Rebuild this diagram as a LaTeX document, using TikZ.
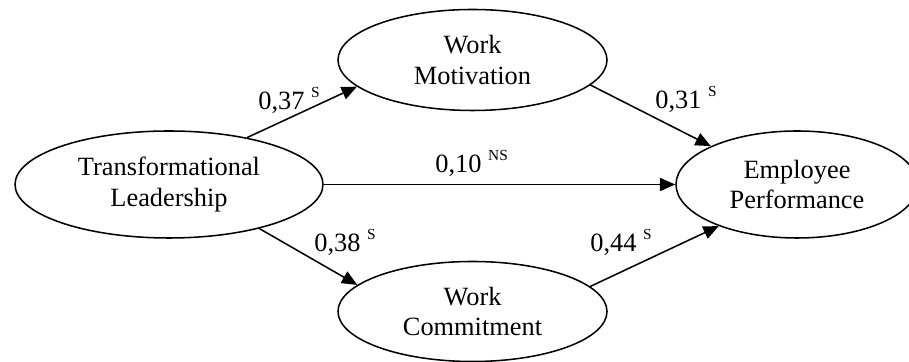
\documentclass[tikz,border=0pt]{standalone}
\usepackage{fontspec}
\setmainfont{Liberation Serif}
\usetikzlibrary{shapes.geometric,arrows.meta}
\newcommand{\coef}[2]{#1\ \raisebox{5.5pt}{\fontsize{7}{8}\selectfont #2}}
\tikzset{
  latent/.style={draw,ellipse,line width=0.7pt,inner sep=0pt,align=center,font=\fontsize{12}{14}\selectfont},
  effect/.style={line width=0.7pt,-{Triangle[length=7pt,width=6pt]}},
  coeflabel/.style={anchor=base west,inner sep=0pt,font=\fontsize{12}{14}\selectfont}
}
\begin{document}
\begin{tikzpicture}
    \useasboundingbox (0,0) rectangle (14.544,5.792);
    \node[latent,minimum width=4.928cm,minimum height=1.712cm](tl)at(2.704,2.84){Transformational\\Leadership};
    \node[latent,minimum width=4.304cm,minimum height=1.616cm](wm)at(7.56,4.832){Work\\Motivation};
    \node[latent,minimum width=4.304cm,minimum height=1.6cm](wc)at(7.56,0.808){Work\\Commitment};
    \node[latent,minimum width=3.872cm,minimum height=1.712cm](ep)at(12.752,2.84){Employee\\Performance};

    \draw[effect] (tl.31) to (wm.-167);
    \draw[effect] (wm.-12) to (ep.156);
    \draw[effect] (tl.east) to (ep.west);
    \draw[effect] (tl.-26) to (wc.167);
    \draw[effect] (wc.12) to (ep.-152);

    \node[coeflabel](c37)at(4.128,4.032){\coef{0,37}{S}};
    \node[coeflabel](c31)at(10.48,4.048){\coef{0,31}{S}};
    \node[coeflabel](c10)at(6.96,3.024){\coef{0,10}{NS}};
    \node[coeflabel](c38)at(5.024,1.76){\coef{0,38}{S}};
    \node[coeflabel](c44)at(9.44,1.76){\coef{0,44}{S}};
  \end{tikzpicture}
\end{document}
